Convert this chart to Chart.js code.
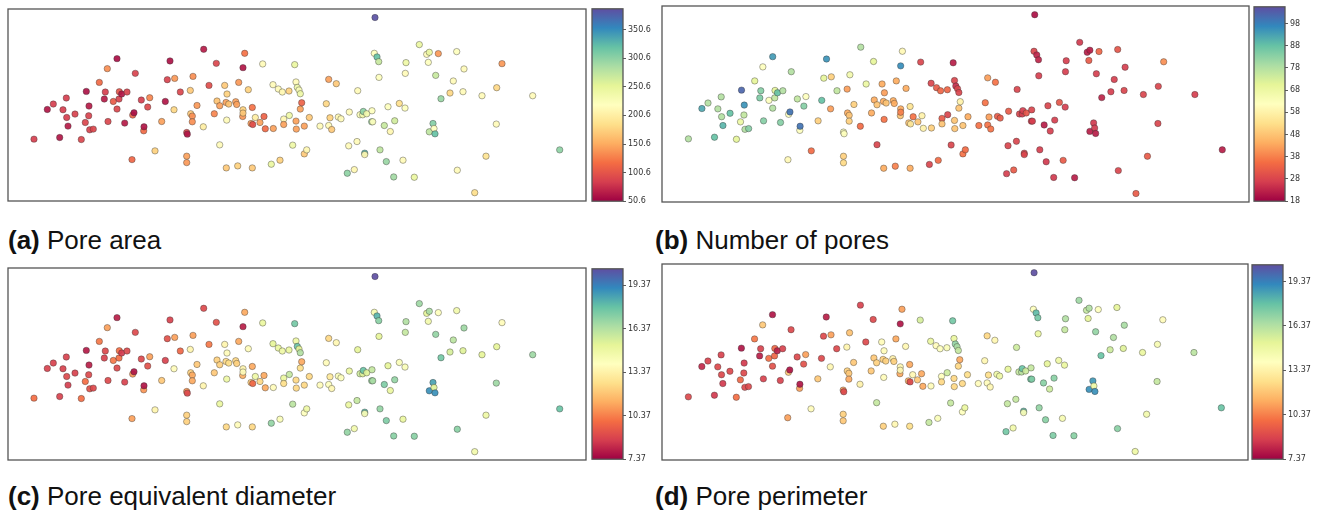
<!DOCTYPE html>
<html>
<head>
<meta charset="UTF-8">
<title>Pore maps</title>
<script src="https://cdn.jsdelivr.net/npm/chart.js"></script>
<style>
  body { margin: 0; background: #fff; width: 1317px; height: 512px; position: relative; overflow: hidden; }
  canvas { position: absolute; }
  .cap { position: absolute; font-family: "Liberation Sans", Arial, sans-serif; font-size: 26px; line-height: 1; color: #111; white-space: nowrap; }
</style>
</head>
<body>

<div class="cap" style="left:8px; top:227px"><b>(a)</b> Pore area</div>
<div class="cap" style="left:655px; top:227px"><b>(b)</b> Number of pores</div>
<div class="cap" style="left:8px; top:483px"><b>(c)</b> Pore equivalent diameter</div>
<div class="cap" style="left:655px; top:483px"><b>(d)</b> Pore perimeter</div>

<script>
// pore positions (same layout in all four maps)
const xs = [
  26, 39.3, 45.3, 51.7, 55, 58.3, 58.7, 60, 67, 73.3,
  77.3, 78.3, 80.7, 81, 81.7, 85.3, 91.3, 96.3, 97.3, 99.3,
  100, 105.3, 109, 109, 111, 111.3, 113.7, 116.7, 119, 124,
  124.7, 126, 127.3, 133.3, 135.7, 136, 139.7, 141.7, 147, 153.7,
  157.3, 159.3, 162, 166, 166.7, 172.3, 178.7, 179.3, 178.7, 178.7,
  182.3, 182.7, 184.3, 184.3, 185, 189, 195.3, 195.7, 201, 206.3,
  208.3, 209, 211.7, 211.7, 216.7, 218, 218.3, 218.7, 219, 220.7,
  227.7, 228.7, 229.7, 230.7, 234.7, 235, 235, 235, 236.7, 240.3,
  243, 244.3, 244.3, 244.7, 247.3, 252, 254.7, 256, 257.3, 263.3,
  265, 265.3, 270.3, 272, 274.3, 275.7, 275.7, 281, 281.3, 284.7,
  286.7, 288, 288, 288.3, 289.3, 291, 292.3, 292.3, 293.7, 296.3,
  296.3, 298.7, 301.3, 312, 318.3, 320.7, 320.7, 322, 323.7, 328.3,
  330.3, 333, 339.3, 340.7, 341.3, 346.3, 349, 349.7, 352, 354.7,
  355.3, 356.7, 356.7, 358.7, 363.7, 364.7, 364, 366.3, 367, 369,
  370.7, 371, 372, 376.3, 378.3, 380, 382.3, 385.7, 386.7, 391.3,
  395, 397, 397.3, 398, 406.3, 411.3, 418.7, 420.3, 421.3, 421.3,
  425, 426, 427, 427.7, 430.3, 433, 442, 445.3, 448.7, 449.3,
  455, 456, 466.7, 474, 478, 488.3, 488.7, 494, 524.7, 551.7
];
const ys = [
  61.7, 91.3, 96.7, 63.3, 91, 102.7, 83.3, 74.7, 86.7, 61.3,
  78.3, 109.3, 85, 94.7, 71, 71.7, 118.3, 101.7, 108.7, 132,
  79.3, 99.3, 142, 91.7, 101.7, 109, 106.7, 77.7, 108.7, 41.3,
  85.7, 88, 127.3, 100.7, 70, 74, 93.7, 103, 50, 79.3,
  99.3, 121, 139.7, 91, 122.3, 108.7, 68.3, 66.7, 44.7, 38.3,
  110.3, 87, 84.7, 79, 124.3, 95.3, 74, 151.3, 115.3, 87,
  137.3, 99.7, 95, 56, 115.3, 98.3, 33, 80.7, 106.7, 96.7,
  99, 96.3, 35, 118.3, 84.3, 133, 91, 87.7, 147.3, 111,
  77.3, 93.3, 33, 76.3, 83.3, 78.3, 136.7, 84.3, 72, 36.7,
  116, 72.3, 111.7, 40.7, 108.7, 81.7, 76.3, 109.7, 85.3, 55.7,
  136, 118.7, 79.7, 71.7, 113.3, 110.7, 107, 91.7, 98, 74.7,
  47, 51, 83.3, 74.7, 97, 121.3, 75.3, 83, 71.3, 117,
  83.7, 82, 27.7, 55, 88.7, 31.3, 59.3, 110, 86, 86,
  89.3, 47.7, 46.3, 87, 79, 79, 90, 147.3, 183, 143.7,
  139, 123.3, 51, 75.3, 39.3, 94, 69.3, 24, 80, 97.3,
  40.7, 92.7, 127.3, 138, 23.7, 156, 146.3, 138.3, 148.3, 69,
  77.3, 72.3, 67, 125.3, 147, 102, 107.7, 119.7, 149, 30.7,
  109, 131.7, 8.3, 105, 44.7, 76.7, 113, 137, 105, 51
];

const poreArea = [
  85, 62, 85, 62, 85, 85, 85, 65, 88, 90,
  90, 60, 88, 65, 88, 90, 115, 65, 85, 135,
  90, 105, 58, 90, 88, 100, 62, 65, 88, 112,
  110, 58, 88, 85, 115, 62, 92, 130, 175, 145,
  62, 88, 60, 180, 140, 90, 92, 62, 145, 140,
  170, 170, 135, 135, 135, 140, 200, 65, 95, 130,
  90, 165, 145, 215, 170, 145, 170, 215, 175, 165,
  145, 145, 175, 140, 140, 62, 175, 170, 120, 175,
  145, 120, 170, 95, 200, 145, 215, 110, 115, 245,
  215, 145, 215, 175, 210, 210, 145, 175, 240, 240,
  245, 215, 145, 145, 240, 225, 240, 145, 110, 145,
  170, 210, 170, 215, 180, 145, 215, 175, 170, 170,
  210, 215, 300, 215, 215, 210, 215, 215, 225, 235,
  300, 325, 210, 235, 295, 220, 220, 220, 385, 320,
  270, 220, 275, 270, 295, 220, 210, 290, 265, 185,
  215, 220, 215, 240, 245, 245, 215, 220, 245, 275,
  305, 220, 320, 270, 140, 295, 180, 215, 220, 215,
  215, 215, 185, 215, 190, 215, 180, 140, 215, 300
];
const poreCount = [
  78, 92, 78, 88, 78, 78, 78, 90, 88, 70,
  68, 102, 76, 95, 78, 84, 70, 85, 84, 62,
  84, 62, 94, 78, 76, 70, 88, 84, 78, 60,
  62, 100, 78, 76, 62, 100, 84, 62, 35, 50,
  88, 70, 95, 42, 50, 76, 64, 62, 50, 52,
  42, 44, 48, 50, 66, 50, 35, 78, 68, 44,
  70, 44, 48, 28, 44, 44, 44, 36, 42, 48,
  44, 44, 38, 44, 48, 96, 44, 38, 60, 44,
  48, 54, 44, 55, 36, 48, 28, 58, 58, 28,
  28, 50, 32, 35, 34, 32, 48, 34, 28, 28,
  22, 28, 48, 48, 24, 28, 28, 48, 58, 48,
  36, 35, 44, 36, 36, 42, 36, 42, 36, 36,
  32, 32, 27, 28, 32, 32, 28, 28, 28, 27,
  27, 28, 28, 31, 27, 27, 28, 28, 20, 23,
  23, 27, 27, 22, 26, 28, 27, 26, 27, 31,
  32, 27, 27, 27, 22, 26, 22, 32, 22, 22,
  26, 26, 22, 27, 34, 23, 27, 27, 31, 28,
  28, 27, 32, 28, 32, 28, 28, 40, 27, 22
];
const poreDiameter = [
  10.0, 8.8, 8.8, 8.8, 8.8, 8.8, 9.0, 8.7, 8.8, 10.0,
  10.0, 7.9, 9.0, 8.0, 9.2, 9.0, 10.2, 8.8, 9.0, 11.0,
  9.0, 10.2, 8.0, 9.0, 10.0, 10.0, 8.6, 8.8, 9.0, 11.0,
  10.8, 7.8, 9.0, 9.0, 10.8, 7.8, 9.2, 11.0, 13.5, 12.0,
  8.8, 9.2, 8.8, 13.8, 11.0, 9.8, 10.8, 9.0, 12.2, 12.2,
  13.5, 12.2, 11.2, 11.2, 11.0, 12.0, 13.5, 9.0, 10.2, 12.0,
  9.2, 12.2, 12.2, 15.0, 13.5, 12.4, 12.4, 14.8, 13.8, 12.6,
  12.4, 12.2, 13.8, 11.2, 11.4, 8.0, 13.5, 13.8, 11.2, 13.8,
  12.2, 11.2, 12.4, 9.8, 14.8, 12.4, 15.0, 11.2, 11.2, 17.0,
  15.2, 13.8, 15.0, 14.2, 14.8, 15.0, 12.6, 15.0, 16.0, 16.2,
  17.6, 14.8, 12.4, 12.4, 17.8, 15.2, 16.4, 12.6, 11.2, 12.4,
  14.0, 14.8, 12.4, 13.8, 13.8, 12.4, 14.0, 13.0, 13.6, 13.6,
  14.2, 14.0, 17.0, 15.0, 15.0, 14.6, 16.0, 15.2, 15.8, 15.4,
  17.8, 18.0, 14.2, 15.4, 16.8, 16.6, 16.0, 14.4, 20.6, 18.2,
  17.2, 15.2, 17.0, 17.4, 17.4, 15.2, 15.0, 17.2, 17.0, 14.2,
  15.0, 14.2, 16.0, 16.4, 17.2, 16.8, 15.2, 14.6, 16.6, 19.0,
  18.6, 15.4, 19.0, 17.0, 14.0, 17.6, 15.6, 16.2, 14.6, 17.2,
  15.4, 16.8, 14.6, 15.2, 14.8, 16.8, 15.2, 13.8, 16.8, 17.8
];
const porePerimeter = [
  9.0, 8.2, 8.8, 8.6, 9.0, 8.8, 9.0, 8.6, 9.0, 10.0,
  9.8, 7.8, 9.0, 8.6, 9.0, 9.0, 10.2, 8.0, 8.8, 12.0,
  8.8, 10.0, 7.8, 9.2, 9.8, 9.8, 8.0, 8.8, 8.8, 11.0,
  12.0, 7.8, 9.0, 9.0, 11.0, 7.8, 9.2, 11.0, 13.8, 12.0,
  9.0, 9.0, 8.0, 13.6, 11.0, 9.0, 11.0, 9.0, 12.2, 12.0,
  13.5, 12.2, 12.0, 11.2, 11.8, 12.0, 13.4, 8.8, 9.0, 12.0,
  9.0, 12.0, 12.2, 16.0, 13.8, 12.2, 12.2, 13.8, 13.8, 12.2,
  13.4, 12.2, 13.6, 11.2, 11.2, 7.8, 13.6, 13.6, 11.0, 13.6,
  11.4, 11.2, 12.6, 9.0, 13.6, 12.0, 15.6, 11.2, 11.2, 16.0,
  15.0, 13.8, 13.8, 14.2, 14.0, 14.0, 12.4, 14.2, 15.8, 16.0,
  17.6, 15.0, 12.4, 12.4, 17.0, 16.6, 16.0, 12.4, 11.2, 12.4,
  14.0, 15.0, 12.6, 13.8, 13.6, 12.4, 13.8, 12.6, 13.6, 13.6,
  14.8, 14.8, 17.6, 16.0, 15.2, 14.6, 16.0, 15.8, 16.0, 16.2,
  17.8, 18.0, 14.2, 15.8, 17.6, 17.4, 16.0, 14.0, 20.6, 18.0,
  17.6, 15.0, 17.0, 17.2, 17.2, 15.2, 15.8, 17.4, 17.2, 14.8,
  14.4, 15.0, 16.0, 16.4, 17.2, 16.8, 16.0, 15.2, 16.4, 19.0,
  18.8, 14.8, 19.0, 17.0, 14.0, 17.8, 15.8, 16.4, 15.2, 17.2,
  15.4, 16.6, 14.8, 15.0, 14.6, 16.0, 14.4, 13.8, 16.2, 17.8
];

// colour bar ranges and ticks
const areaRange = [50.6, 387];
const areaTicks = [50.6, 100.6, 150.6, 200.6, 250.6, 300.6, 350.6];
const countRange = [18, 105.5];
const countTicks = [18, 28, 38, 48, 58, 68, 78, 88, 98];
const diameterRange = [7.37, 20.5];
const diameterTicks = [7.37, 10.37, 13.37, 16.37, 19.37];
const perimeterRange = [7.37, 20.5];
const perimeterTicks = [7.37, 10.37, 13.37, 16.37, 19.37];

// matplotlib "Spectral"
const spectral = ['#9e0142', '#d53e4f', '#f46d43', '#fdae61', '#fee08b', '#ffffbf',
                  '#e6f598', '#abdda4', '#66c2a5', '#3288bd', '#5e4fa2'];
const spectralRgb = spectral.map(h => [1, 3, 5].map(i => parseInt(h.slice(i, i + 2), 16)));

function spectralColor(t, alpha) {
  t = Math.min(1, Math.max(0, t));
  const p = t * 10, i = Math.min(9, Math.floor(p)), f = p - i;
  const a = spectralRgb[i], b = spectralRgb[i + 1];
  const c = a.map((v, k) => Math.round(v + (b[k] - v) * f));
  return `rgba(${c[0]},${c[1]},${c[2]},${alpha})`;
}

const frame = {
  id: 'frame',
  afterDraw(chart) {
    const { ctx, chartArea: a } = chart;
    ctx.save();
    ctx.strokeStyle = '#555';
    ctx.lineWidth = 1.3;
    ctx.strokeRect(a.left, a.top, a.right - a.left, a.bottom - a.top);
    ctx.restore();
  }
};

function makeCanvas(left, top, w, h) {
  const c = document.createElement('canvas');
  c.width = w; c.height = h;
  c.style.left = left + 'px';
  c.style.top = top + 'px';
  document.body.appendChild(c);
  return c;
}

const M = 6;

function poreMap(box, values, range) {
  const [l, t, w, h] = box;
  const canvas = makeCanvas(l - M, t - M, w + 2 * M, h + 2 * M);
  new Chart(canvas, {
    type: 'scatter',
    data: {
      datasets: [{
        data: xs.map((x, i) => ({ x: x, y: ys[i], v: values[i] })),
        pointRadius: 3.2,
        pointBackgroundColor: ctx => spectralColor((ctx.raw.v - range[0]) / (range[1] - range[0]), 0.92),
        pointBorderColor: 'rgba(50,50,50,0.65)',
        pointBorderWidth: 0.6
      }]
    },
    options: {
      responsive: false,
      animation: false,
      events: [],
      layout: { padding: M },
      plugins: { legend: { display: false }, tooltip: { enabled: false } },
      scales: {
        x: { display: false, min: 0, max: 578 },
        y: { display: false, min: 0, max: 191.5 }
      }
    },
    plugins: [frame]
  });
}

function colorBar(bar, range, ticks, decimals) {
  const [l, t, w, h] = bar;
  const axisW = 40;
  const canvas = makeCanvas(l - 1, t - M, w + axisW + 1, h + 2 * M);
  new Chart(canvas, {
    type: 'bar',
    data: {
      labels: [''],
      datasets: [{
        data: [range],
        borderWidth: 0,
        barPercentage: 1,
        categoryPercentage: 1,
        backgroundColor: ctx => {
          const a = ctx.chart.chartArea;
          if (!a) return spectral[5];
          const g = ctx.chart.ctx.createLinearGradient(0, a.bottom, 0, a.top);
          spectral.forEach((c, i) => g.addColorStop(i / 10, c));
          return g;
        }
      }]
    },
    options: {
      responsive: false,
      animation: false,
      events: [],
      layout: { padding: { top: M, bottom: M, left: 1, right: 0 } },
      plugins: { legend: { display: false }, tooltip: { enabled: false } },
      scales: {
        x: { display: false },
        y: {
          position: 'right',
          min: range[0],
          max: range[1],
          afterBuildTicks: s => { s.ticks = ticks.map(v => ({ value: v })); },
          afterFit: s => { s.width = axisW; },
          border: { display: false },
          grid: { drawOnChartArea: false, drawTicks: true, tickLength: 3, color: '#333', lineWidth: 0.8 },
          ticks: {
            autoSkip: false,
            padding: 2,
            color: '#333',
            font: { family: 'DejaVu Sans', size: 8 },
            callback: v => Number(v).toFixed(decimals)
          }
        }
      }
    },
    plugins: [frame]
  });
}

poreMap([8, 9, 578, 192], poreArea, areaRange);
colorBar([592, 8, 31, 194], areaRange, areaTicks, 1);

poreMap([662, 6, 587, 196], poreCount, countRange);
colorBar([1254, 6, 31, 196], countRange, countTicks, 0);

poreMap([8, 268, 578, 192], poreDiameter, diameterRange);
colorBar([592, 268, 31, 192], diameterRange, diameterTicks, 2);

poreMap([662, 264, 586, 196], porePerimeter, perimeterRange);
colorBar([1252, 264, 31, 196], perimeterRange, perimeterTicks, 2);
</script>
</body>
</html>
